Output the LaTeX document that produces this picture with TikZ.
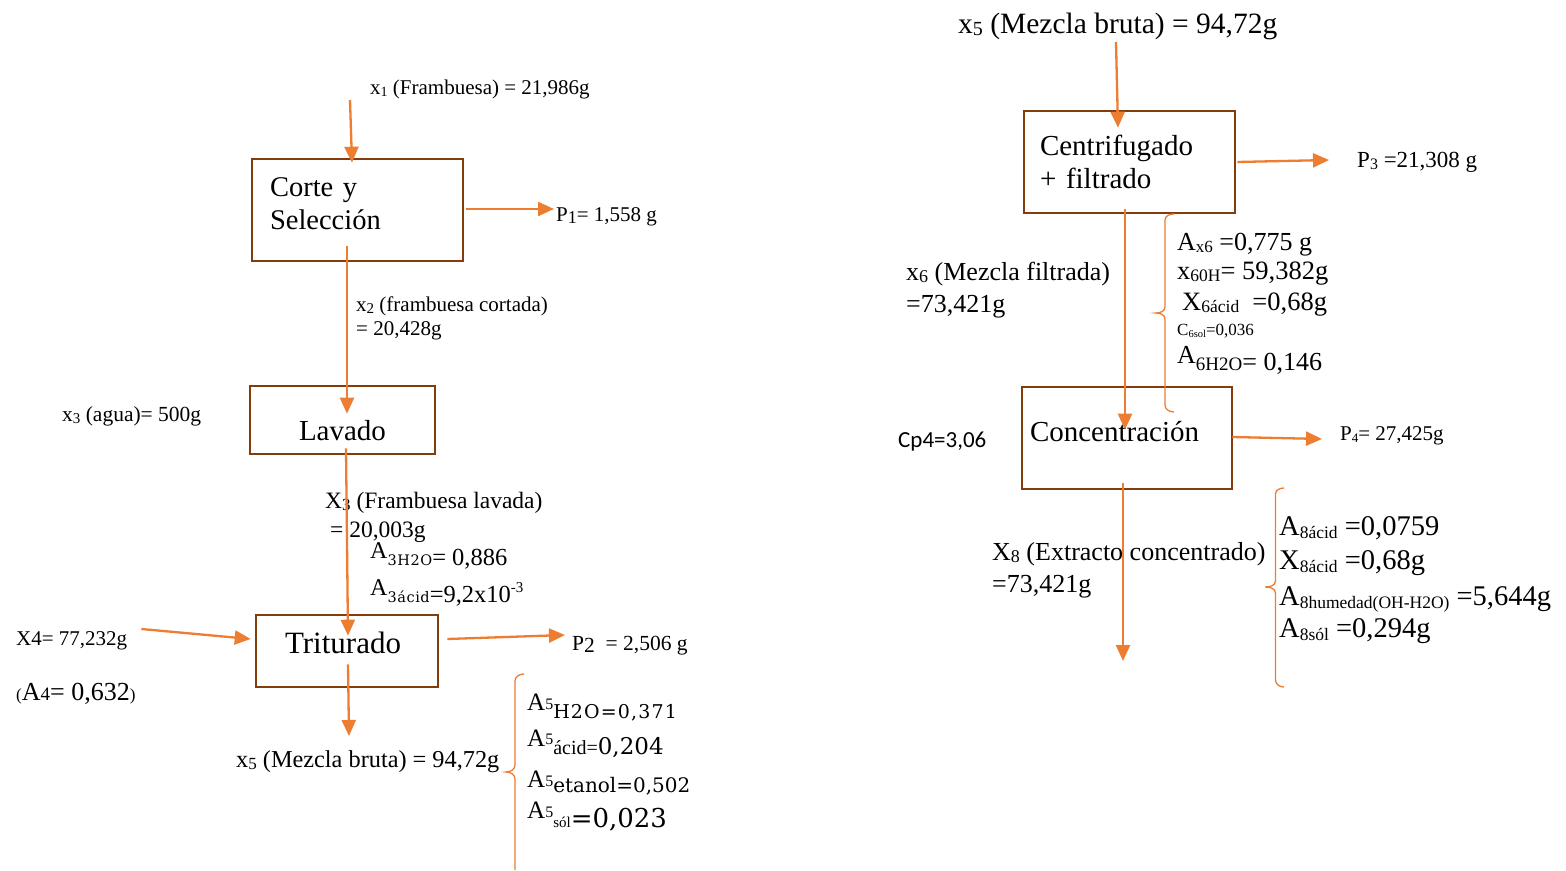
\documentclass[tikz,border=0pt]{standalone}
\usepackage{fontspec}
\setmainfont{Liberation Serif}
\newfontfamily\calib{Carlito}
\newfontfamily\cambr{DejaVu Serif}
\usetikzlibrary{arrows.meta}
\definecolor{flowc}{HTML}{ED7D31}
\definecolor{edgec}{HTML}{843C0C}
\newcommand\fsz[1]{\fontsize{#1}{#1}\selectfont}
\newcommand\lo[2]{\raisebox{-#1pt}{#2}}
\newcommand\up[2]{\raisebox{#1pt}{#2}}
\tikzset{
  procbox/.style={draw=edgec, line width=2.6pt, inner sep=0pt, font=\fsz{29}},
  flowarrow/.style={draw=flowc, line width=2.3pt, -{Triangle[length=16pt,width=14pt]}},
  bracket/.style={draw=flowc, line width=1.3pt},
  lbl/.style={anchor=base west, inner sep=0pt},
}
\begin{document}
\begin{tikzpicture}[x=1pt,y=-1pt]
\fill[white] (0,0) rectangle (1566,870);
\useasboundingbox (0,0) rectangle (1566,870);

% ---------- process boxes ----------
\node[procbox, minimum width=211pt, minimum height=102pt, text width=175pt, align=left,
      font=\fontsize{28.5}{33}\selectfont] (corte) at (357.5,210) {Corte y\\Selección\\[-20pt]\mbox{}};
\node[procbox, minimum width=185pt, minimum height=68pt, text height=40pt, text depth=0pt] (lavado) at (342.5,420) {Lavado};
\node[procbox, minimum width=182pt, minimum height=72pt, text height=20pt, text depth=15pt, font=\fsz{31}] (trit) at (347,651) {\hspace*{-8pt}Triturado};
\node[procbox, minimum width=211pt, minimum height=102pt, text width=179pt, align=left,
      font=\fontsize{29}{33}\selectfont] (centr) at (1129.5,162) {Centrifugado\\+ filtrado};
\node[procbox, minimum width=210pt, minimum height=102pt, text width=194pt, align=left,
      text height=20pt, text depth=14pt] (conc) at (1127,438) {Concentración};

% ---------- left column labels ----------
\node[lbl, font=\fsz{21}] (lx1) at (370,94) {x\lo{2}{\fsz{14}1} (Frambuesa) = 21,986g};
\node[lbl, font=\fsz{21}] (lp1) at (556,221) {P\lo{2}{\fsz{18}1}= 1,558 g};
\node[lbl, font=\fsz{21}] (lx2a) at (356,311) {x\lo{2}{\fsz{15}2} (frambuesa cortada)};
\node[lbl, font=\fsz{21}] (lx2b) at (356,335) {= 20,428g};
\node[lbl, font=\fsz{21.5}] (lx3) at (62,421) {x\lo{2}{\fsz{15}3} (agua)= 500g};
\node[lbl, font=\fsz{23.5}] (lX3a) at (325,508) {X\lo{2}{\fsz{17}3} (Frambuesa lavada)};
\node[lbl, font=\fsz{23.5}] (lX3b) at (330,537) {= 20,003g};
\node[lbl] (lA3a) at (370,565) {\up{7}{\fsz{24}A}{\cambr\fsz{14.5}\addfontfeature{LetterSpace=4}3H2O}{\fsz{24.5}= 0,886}};
\node[lbl] (lA3b) at (370,602) {\up{7}{\fsz{24}A}{\cambr\fsz{14.5}\addfontfeature{LetterSpace=4}3ácid}{\fsz{24.5}=9,2x10}\up{10}{\fsz{15}-3}};
\node[lbl, font=\fsz{21}] (lx4) at (16,645) {X4= 77,232g};
\node[lbl] (lA4) at (16,700) {{\fsz{17}(}{\fsz{26}A}{\fsz{19}4}{\fsz{26}= 0,632}{\fsz{17})}};
\node[lbl, font=\fsz{21.5}] (lp2) at (572,650) {P\lo{2}{2}\ \ = 2,506 g};
\node[lbl, font=\fsz{24.3}] (lx5b) at (236,767) {x\lo{2}{\fsz{17}5} (Mezcla bruta) = 94,72g};
\node[lbl] (lA5a) at (527,718) {\up{8}{\fsz{25}A}\up{9}{\fsz{16}5}{\cambr\fsz{19}\addfontfeature{LetterSpace=6}H2O=0,371}};
\node[lbl] (lA5b) at (527,754) {\up{8}{\fsz{25}A}\up{10}{\fsz{16}5}{\fsz{20}ácid=}{\cambr\fsz{23}0,204}};
\node[lbl] (lA5c) at (527,792) {\up{5}{\fsz{25}A}\up{6}{\fsz{16}5}{\cambr\fsz{20}etanol=0,502}};
\node[lbl] (lA5d) at (527,827) {\up{9}{\fsz{25}A}\up{10}{\fsz{16}5}{\fsz{15}sól}{\cambr\fsz{26}=0,023}};

% ---------- right column labels ----------
\node[lbl, font=\fsz{29.5}] (lx5t) at (958,33) {x\lo{2}{\fsz{20}5} (Mezcla bruta) = 94,72g};
\node[lbl, font=\fsz{23}] (lp3) at (1357,167) {P\lo{2}{\fsz{16}3} =21,308 g};
\node[lbl, font=\fsz{26}] (lx6a) at (906,280) {x\lo{2}{\fsz{18}6} (Mezcla filtrada)};
\node[lbl, font=\fsz{26}] (lx6b) at (906,312) {=73,421g};
\node[lbl] (lAx6) at (1177,250) {{\fsz{26}A}\lo{2}{\fsz{17}x6}{\fsz{26} =0,775 g}};
\node[lbl] (lx60H) at (1177,279) {{\fsz{26.5}x}\lo{2}{\fsz{17.5}60H}{\fsz{26.5}= 59,382g}};
\node[lbl] (lX6a) at (1182,310) {{\fsz{26.5}X}\lo{2}{\fsz{17.5}6ácid}{\fsz{26.5} \ =0,68g}};
\node[lbl] (lC6) at (1177,335) {{\fsz{17}C}\lo{2}{\fsz{10.5}6sol}{\fsz{17}=0,036}};
\node[lbl] (lA6) at (1177,370) {\up{7}{\fsz{26}A}{\fsz{19}6H2O}{\fsz{26}= 0,146}};
\node[lbl, font=\calib\fsz{23}] (lcp4) at (898,447) {Cp4=3,06};
\node[lbl, font=\fsz{21}] (lp4) at (1340,440) {P\lo{2}{\fsz{13}4}= 27,425g};
\node[lbl, font=\fsz{26}] (lx8a) at (992,560) {X\lo{2}{\fsz{18}8} (Extracto concentrado)};
\node[lbl, font=\fsz{26}] (lx8b) at (992,592) {=73,421g};
\node[lbl] (lA8a) at (1279,535) {{\fsz{28.5}A}\lo{3}{\fsz{17.5}8ácid}{\fsz{28.5} =0,0759}};
\node[lbl] (lX8) at (1279,569) {{\fsz{28.5}X}\lo{3}{\fsz{17.5}8ácid}{\fsz{28.5} =0,68g}};
\node[lbl] (lA8b) at (1279,605) {{\fsz{28.5}A}\lo{3}{\fsz{17.5}8humedad(OH-H2O)}{\fsz{28.5} =5,644g}};
\node[lbl] (lA8c) at (1279,637) {{\fsz{28.5}A}\lo{3}{\fsz{17.5}8sól}{\fsz{28.5} =0,294g}};

% ---------- free ends of stream arrows ----------
\coordinate (x1in) at (350,100);
\coordinate (x5out) at (349,736);
\coordinate (x5in) at (1116,42);
\coordinate (x8out) at (1123,661);

% ---------- stream arrows ----------
\draw[flowarrow] (x1in) -- ([shift={(-5.5pt,-5pt)}]corte.north);
\draw[flowarrow] ([shift={(2pt,1pt)}]corte.east) -- ([shift={(-2pt,12pt)}]lp1.base west);
\draw[flowarrow] ([shift={(-10.5pt,16pt)}]corte.south) -- ([shift={(4.5pt,-29pt)}]lavado.north);
\draw[flowarrow] ([shift={(3.5pt,7pt)}]lavado.south) -- ([shift={(1pt,-22pt)}]trit.north);
\draw[flowarrow] ([shift={(14pt,16pt)}]lx4.base east) -- ([shift={(-4pt,12pt)}]trit.west);
\draw[flowarrow] ([shift={(8pt,12pt)}]trit.east) -- ([shift={(-7pt,15pt)}]lp2.base west);
\draw[flowarrow] ([shift={(1pt,24pt)}]trit.south) -- (x5out);
\draw[flowarrow] (x5in) -- ([shift={(-11.5pt,-18pt)}]centr.north);
\draw[flowarrow] ([shift={(1pt,0pt)}]centr.east) -- ([shift={(-28pt,7pt)}]lp3.base west);
\draw[flowarrow] ([shift={(-4.5pt,5pt)}]centr.south) -- ([shift={(-2pt,-44pt)}]conc.north);
\draw[flowarrow] ([shift={(-1pt,1pt)}]conc.east) -- ([shift={(-18pt,1pt)}]lp4.base west);
\draw[flowarrow] ([shift={(-4pt,7pt)}]conc.south) -- (x8out);

% ---------- composition brackets ----------
\draw[bracket] (524,674) to[out=180,in=90] (515,681) -- (515,765)
  to[out=-90,in=0] (506,772) to[out=0,in=90] (515,779) -- (515,870);
\draw[bracket] (1174,214) to[out=180,in=90] (1165,220) -- (1165,307)
  to[out=-90,in=0] (1156,313) to[out=0,in=90] (1165,319) -- (1165,405)
  to[out=-90,in=180] (1174,412);
\draw[bracket] (1284,488) to[out=180,in=90] (1275.5,494) -- (1275.5,581)
  to[out=-90,in=0] (1265,587) to[out=0,in=90] (1275.5,593) -- (1275.5,680)
  to[out=-90,in=180] (1284,687);
\end{tikzpicture}
\end{document}
